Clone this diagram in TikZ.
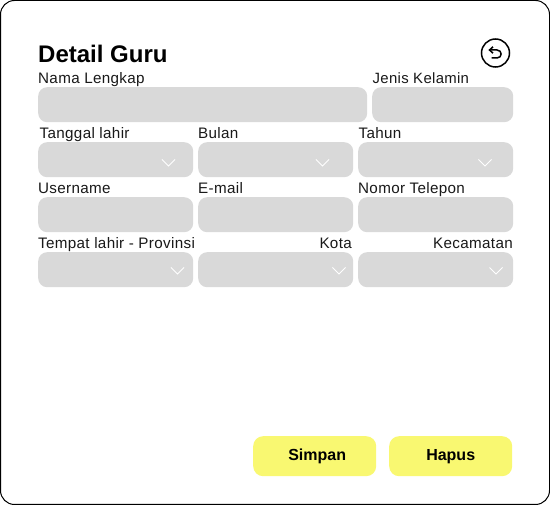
\documentclass[tikz,border=0pt]{standalone}
\usepackage{fontspec}
\setmainfont[LetterSpace=2.2]{Liberation Sans}
\newfontfamily\btnfont{Liberation Sans}
\usetikzlibrary{calc, arrows.meta}
\definecolor{fieldgray}{HTML}{D9D9D9}
\definecolor{btnyellow}{HTML}{F9F871}
\tikzset{
    field/.style={fill=fieldgray, rounded corners=9pt, inner sep=0pt, minimum height=35pt, anchor=north west},
    label/.style={inner sep=0pt, anchor=base west, font=\fontsize{15.2}{17}\selectfont, text=black!90},
    btn/.style={fill=btnyellow, rounded corners=10pt, inner sep=0pt, minimum width=123pt, minimum height=40pt, anchor=north west, text height=11.5pt, text depth=3.5pt, font=\btnfont\fontsize{16}{18}\selectfont\bfseries},
    chev/.style={draw=white, line width=1pt},
}
\begin{document}
\begin{tikzpicture}[x=1pt, y=-1pt]
        \useasboundingbox (0,0) rectangle (550,505);
        \draw[black, line width=1pt, rounded corners=14pt, fill=white] (0.5,0.5) rectangle (549.5,504.5);

        \node[inner sep=0pt, anchor=base west, font=\btnfont\fontsize{24}{28}\selectfont\bfseries] (title) at (38,62.5) {Detail Guru};

        % row 1
        \node[label] (lnama) at (38,83.5) {Nama Lengkap};
        \node[label, font=\fontsize{14.9}{17}\selectfont] (ljenis) at (372.5,83.5) {Jenis Kelamin};
        \node[field, minimum width=329pt] (fnama) at (38,87) {};
        \node[field, minimum width=141pt] (fjenis) at (372,87) {};

        % rows 2 to 4
        \foreach \name/\y in {a/142, b/197, c/252} {
            \node[field, minimum width=155pt] (f\name1) at (38,\y) {};
            \node[field, minimum width=155pt] (f\name2) at (198,\y) {};
            \node[field, minimum width=155pt] (f\name3) at (358,\y) {};
        }
        \node[label] (ltgl) at (39.5,138.5) {Tanggal lahir};
        \node[label] (lbulan) at (198,138.5) {Bulan};
        \node[label] (ltahun) at (358.5,138.5) {Tahun};
        \node[label] (luser) at (38,193.5) {Username};
        \node[label] (lmail) at (198,193.5) {E-mail};
        \node[label] (ltelp) at (358,193.5) {Nomor Telepon};
        \node[label] (lprov) at (38,248.5) {Tempat lahir - Provinsi};
        \node[label, anchor=base east] (lkota) at (352,248.5) {Kota};
        \node[label, anchor=base east] (lkec) at (513,248.5) {Kecamatan};

        % dropdown marks
        \foreach \cx/\cy in {168.5/159.5, 322.5/159.5, 485/159.5, 177.5/267.5, 339/267.5, 496/267.5} {
            \draw[chev] (\cx-6.5,\cy) -- ++(6.5,6.5) -- ++(6.5,-6.5);
        }

        % back icon
        \node[draw, circle, line width=1.5pt, minimum size=28pt, inner sep=0pt] (back) at (495.5,53) {};
        \draw[line width=1.5pt] (490,50) -- (497,50) .. controls (502.5,50) and (502.5,58) .. (497,58) -- (491.5,58);
        \draw[line width=1.5pt] (493,46.8) -- (489.5,50) -- (493,53.2);

        % buttons
        \node[btn] (simpan) at (253,436) {\hspace{5pt}Simpan};
        \node[btn] (hapus) at (389,436) {Hapus\hspace{4pt}};
    \end{tikzpicture}
\end{document}
